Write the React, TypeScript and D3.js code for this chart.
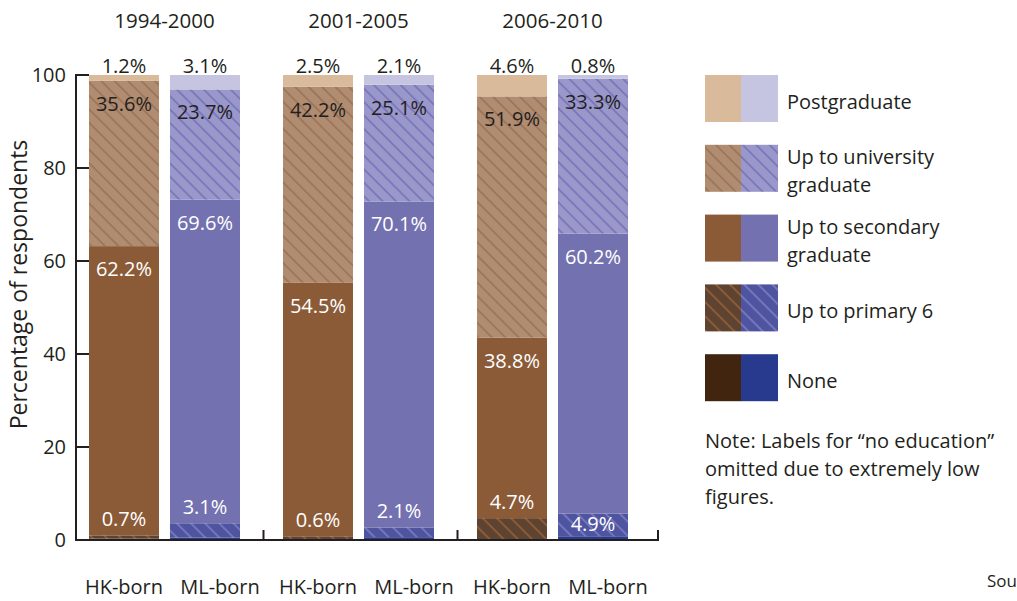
import React from 'react';
import * as d3 from 'd3';

const periods = ['1994-2000', '2001-2005', '2006-2010'];
const origins = ['HK-born', 'ML-born'];
const levelKeys = ['none', 'primary', 'secondary', 'university', 'postgrad'];
const levelNames = ['None', 'Up to primary 6', 'Up to secondary graduate', 'Up to university graduate', 'Postgraduate'];
// order of bars: HK 94, ML 94, HK 01, ML 01, HK 06, ML 06
const noneValues = [0.3, 0.5, 0.2, 0.6, 0.0, 0.8];
const primaryValues = [0.7, 3.1, 0.6, 2.1, 4.7, 4.9];
const secondaryValues = [62.2, 69.6, 54.5, 70.1, 38.8, 60.2];
const universityValues = [35.6, 23.7, 42.2, 25.1, 51.9, 33.3];
const postgradValues = [1.2, 3.1, 2.5, 2.1, 4.6, 0.8];
const yTicks = [0, 20, 40, 60, 80, 100];
const noteLines = ['Note: Labels for \u201cno education\u201d', 'omitted due to extremely low', 'figures.'];

const FONT = '"Open Sans", "Noto Sans", sans-serif';
const INK = '#231F20';

const fills: Record<string, Record<string, string>> = {
  'HK-born': { none: '#41250F', primary: 'url(#hk-primary)', secondary: '#8B5B38', university: 'url(#hk-univ)', postgrad: '#D9BB9B' },
  'ML-born': { none: '#283A8E', primary: 'url(#ml-primary)', secondary: '#7371B0', university: 'url(#ml-univ)', postgrad: '#C5C5E2' },
};

const rows = periods.flatMap((p, pi) =>
  origins.map((o, oi) => {
    const i = pi * 2 + oi;
    return {
      period: p,
      origin: o,
      none: noneValues[i],
      primary: primaryValues[i],
      secondary: secondaryValues[i],
      university: universityValues[i],
      postgrad: postgradValues[i],
    };
  })
);

function Hatch({ id, bg, line, size = 9.5, width = 1.6 }: { id: string; bg: string; line: string; size?: number; width?: number }) {
  return (
    <pattern id={id} patternUnits="userSpaceOnUse" width={size} height={size} patternTransform="rotate(45)">
      <rect width={size} height={size} fill={bg} />
      <line x1={0} y1={size / 2} x2={size} y2={size / 2} stroke={line} strokeWidth={width} />
    </pattern>
  );
}

export default function App() {
  const W = 1017, H = 601;
  const y = d3.scaleLinear().domain([0, 100]).range([540, 75]);
  const x0 = d3.scaleBand<string>().domain(periods).range([67.5, 649.5]);
  const x1 = d3.scaleBand<string>().domain(origins).range([21.5, 172.5]).paddingInner(0.1358);
  const stack = d3.stack<any>().keys(levelKeys);
  const series = stack(rows as any);

  const axisX0 = 76, axisX1 = 658;
  const sepXs = [...periods.slice(0, -1).map((p) => (x0(p) as number) + x0.step() + 2), axisX1];

  const labels: React.ReactNode[] = [];
  series.forEach((s) => {
    const key = s.key;
    s.forEach((d, i) => {
      const row = rows[i];
      const cx = (x0(row.period) as number) + (x1(row.origin) as number) + x1.bandwidth() / 2;
      const v = (row as any)[key] as number;
      const top = y(d[1]);
      const bottom = y(d[0]);
      let yy: number | null = null;
      let color = INK;
      if (key === 'postgrad') { yy = top - 2; color = INK; }
      else if (key === 'university') { yy = top + 30; color = INK; }
      else if (key === 'secondary') { yy = top + 30; color = '#FFFFFF'; }
      else if (key === 'primary') {
        color = '#FFFFFF';
        yy = bottom - top > 22.3 ? bottom - 5 : top - 9;
      }
      if (yy !== null) {
        labels.push(
          <text key={key + i} x={cx} y={yy} textAnchor="middle" fill={color} fontSize={20}>
            {v.toFixed(1)}%
          </text>
        );
      }
    });
  });

  const legendItems = [
    { key: 'postgrad', lines: ['Postgraduate'] },
    { key: 'university', lines: ['Up to university', 'graduate'] },
    { key: 'secondary', lines: ['Up to secondary', 'graduate'] },
    { key: 'primary', lines: ['Up to primary 6'] },
    { key: 'none', lines: ['None'] },
  ];

  return (
    <svg width={W} height={H} style={{ position: 'absolute', left: 0, top: 0, background: '#fff' }} fontFamily={FONT}>
      <defs>
        <Hatch id="hk-univ" bg="#B08C70" line="#9A7257" />
        <Hatch id="ml-univ" bg="#9A97CA" line="#7672B8" />
        <Hatch id="hk-primary" bg="#5E4330" line="#8B5B38" size={10} width={2} />
        <Hatch id="ml-primary" bg="#4F54A0" line="#7C7FC0" size={10} width={1.6} />
      </defs>
      <rect width={W} height={H} fill="#fff" />

      {/* bars */}
      {series.map((s) => (
        <g key={s.key}>
          {s.map((d, i) => {
            const row = rows[i];
            const h = y(d[0]) - y(d[1]);
            if (h <= 0) return null;
            return (
              <rect
                key={i}
                x={(x0(row.period) as number) + (x1(row.origin) as number)}
                y={y(d[1])}
                width={x1.bandwidth()}
                height={h}
                fill={fills[row.origin][s.key]}
              />
            );
          })}
        </g>
      ))}

      {/* axes */}
      <g stroke={INK} strokeWidth={2} fill="none">
        <line x1={axisX0} y1={y(100) - 1} x2={axisX0} y2={y(0) + 1} />
        <line x1={axisX0 - 1} y1={y(0)} x2={axisX1 + 1} y2={y(0)} />
        {yTicks.map((t) => (
          <line key={t} x1={axisX0} y1={y(t)} x2={axisX0 + 13} y2={y(t)} />
        ))}
        {sepXs.map((sx, i) => (
          <line key={i} x1={sx} y1={y(0)} x2={sx} y2={y(0) - 10} />
        ))}
      </g>
      {yTicks.map((t) => (
        <text key={t} x={66} y={y(t)} dy="0.35em" textAnchor="end" fontSize={20} fill={INK}>
          {t}
        </text>
      ))}
      <text transform={`translate(27,${(y(0) + y(100)) / 2 - 23}) rotate(-90)`} textAnchor="middle" fontSize={23} fill={INK}>
        Percentage of respondents
      </text>

      {/* period labels */}
      {periods.map((p) => (
        <text key={p} x={(x0(p) as number) + x0.step() / 2} y={28} textAnchor="middle" fontSize={20.5} fill={INK}>
          {p}
        </text>
      ))}
      {/* origin labels */}
      {periods.flatMap((p) =>
        origins.map((o, oi) => (
          <text key={p + o} x={(x0(p) as number) + (x1(o) as number) + x1.bandwidth() / 2 + oi * 15} y={594} textAnchor="middle" fontSize={20} fill={INK}>
            {o}
          </text>
        ))
      )}

      {labels}

      {/* legend */}
      {legendItems.map((it, i) => {
        const top = 75 + i * 69.8;
        return (
          <g key={it.key}>
            <rect x={705} y={top} width={36} height={47} fill={fills['HK-born'][it.key]} />
            <rect x={741} y={top} width={37} height={47} fill={fills['ML-born'][it.key]} />
            {it.lines.map((ln, j) => (
              <text key={j} x={787} y={it.lines.length === 1 ? top + 34 : top + 19 + j * 28} fontSize={20} fill={INK}>
                {ln}
              </text>
            ))}
          </g>
        );
      })}
      {noteLines.map((ln, i) => (
        <text key={i} x={705} y={448 + i * 28} fontSize={20} fill={INK}>
          {ln}
        </text>
      ))}
      <text x={987} y={587} fontSize={17} fill={INK}>Sou</text>
    </svg>
  );
}
